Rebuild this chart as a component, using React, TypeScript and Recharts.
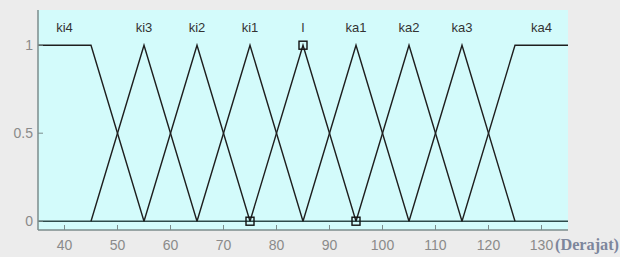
import React from 'react';
import { ComposedChart, Line, XAxis, YAxis, CartesianGrid, ReferenceDot } from 'recharts';

const setNames = ['ki4', 'ki3', 'ki2', 'ki1', 'l', 'ka1', 'ka2', 'ka3', 'ka4'];
const setLabelX = [40, 55, 65, 75, 85, 95, 105, 115, 130];
const setBreakX = [
  [35, 45, 55],
  [45, 55, 65],
  [55, 65, 75],
  [65, 75, 85],
  [75, 85, 95],
  [85, 95, 105],
  [95, 105, 115],
  [105, 115, 125],
  [115, 125, 135],
];
const setBreakY = [
  [1, 1, 0],
  [0, 1, 0],
  [0, 1, 0],
  [0, 1, 0],
  [0, 1, 0],
  [0, 1, 0],
  [0, 1, 0],
  [0, 1, 0],
  [0, 1, 1],
];
const baselineX = [35, 135];
const baselineY = [0, 0];
const markerX = [85, 75, 95];
const markerY = [1, 0, 0];
const xTicks = [40, 50, 60, 70, 80, 90, 100, 110, 120, 130];
const yTicks = [0, 0.5, 1];
const xDomain = [35, 135];
const yDomain = [-0.05, 1.2];
const labelY = 1.1;
const xUnit = '(Derajat)';

const series = setBreakX.map((xs, i) => xs.map((x, j) => ({ x, y: setBreakY[i][j] })));
const baseline = baselineX.map((x, i) => ({ x, y: baselineY[i] }));
const markers = markerX.map((x, i) => ({ x, y: markerY[i] }));

const FONT = '"Liberation Sans", Arial, sans-serif';
const AXIS = '#7c8c8c';
const TICKTXT = '#8a8a8a';

const Square = (p: any) => {
  if (p.cx == null || p.cy == null) return null;
  return (
    <rect
      key={`sq-${p.index}`}
      x={p.cx - 4}
      y={p.cy - 4}
      width={8}
      height={8}
      fill="none"
      stroke="#111"
      strokeWidth={1.4}
    />
  );
};

const UnitLabel = (props: any) => {
  const vb = props.viewBox || {};
  return (
    <text
      x={vb.x + vb.width - 13}
      y={vb.y + 20}
      fill="#7d869c"
      fontFamily='"Liberation Serif", "Times New Roman", serif'
      fontWeight="bold"
      fontSize={16}
      textLength={64}
      lengthAdjust="spacingAndGlyphs"
    >
      {xUnit}
    </text>
  );
};

export default function App() {
  return (
    <div
      style={{
        position: 'absolute',
        left: 0,
        top: 0,
        width: 620,
        height: 257,
        background: '#ececec',
      }}
    >
      <ComposedChart
        width={620}
        height={257}
        margin={{ top: 10, right: 52, left: 0, bottom: 0 }}
      >
        <CartesianGrid fill="#d3fbfb" horizontal={false} vertical={false} stroke="none" />
        <XAxis
          dataKey="x"
          type="number"
          domain={xDomain}
          ticks={xTicks}
          allowDataOverflow
          height={27}
          tickSize={-5}
          tickMargin={15}
          axisLine={{ stroke: AXIS, strokeWidth: 1.5 }}
          tickLine={{ stroke: AXIS }}
          tick={{ fill: TICKTXT, fontSize: 14, fontFamily: FONT }}
          label={<UnitLabel />}
        />
        <XAxis
          xAxisId="top"
          orientation="top"
          type="number"
          domain={xDomain}
          ticks={xTicks}
          allowDataOverflow
          height={0}
          tickSize={-5}
          tick={false}
          axisLine={{ stroke: AXIS, strokeWidth: 1.5 }}
          tickLine={{ stroke: AXIS }}
        />
        <YAxis
          type="number"
          domain={yDomain}
          ticks={yTicks}
          allowDataOverflow
          width={38}
          tickSize={-5}
          tickMargin={10}
          axisLine={{ stroke: AXIS, strokeWidth: 1.5 }}
          tickLine={{ stroke: AXIS }}
          tick={{ fill: TICKTXT, fontSize: 14, fontFamily: FONT }}
        />
        <YAxis
          yAxisId="right"
          orientation="right"
          type="number"
          domain={yDomain}
          ticks={yTicks}
          allowDataOverflow
          width={0}
          tickSize={-5}
          tick={false}
          axisLine={{ stroke: AXIS, strokeWidth: 1.5 }}
          tickLine={{ stroke: AXIS }}
        />
        <Line
          data={baseline}
          dataKey="y"
          stroke="#2e4a4a"
          strokeWidth={1.6}
          dot={false}
          isAnimationActive={false}
        />
        {series.map((d, i) => (
          <Line
            key={setNames[i]}
            data={d}
            dataKey="y"
            stroke="#1e1e1e"
            strokeWidth={1.4}
            dot={false}
            isAnimationActive={false}
          />
        ))}
        <Line
          data={markers}
          dataKey="y"
          stroke="none"
          dot={<Square />}
          isAnimationActive={false}
        />
        {setNames.map((n, i) => (
          <ReferenceDot
            key={`lbl-${n}`}
            x={setLabelX[i]}
            y={labelY}
            r={0}
            fill="none"
            stroke="none"
            label={{ value: n, position: 'center', fill: '#333', fontSize: 13, fontFamily: FONT }}
          />
        ))}
      </ComposedChart>
    </div>
  );
}
